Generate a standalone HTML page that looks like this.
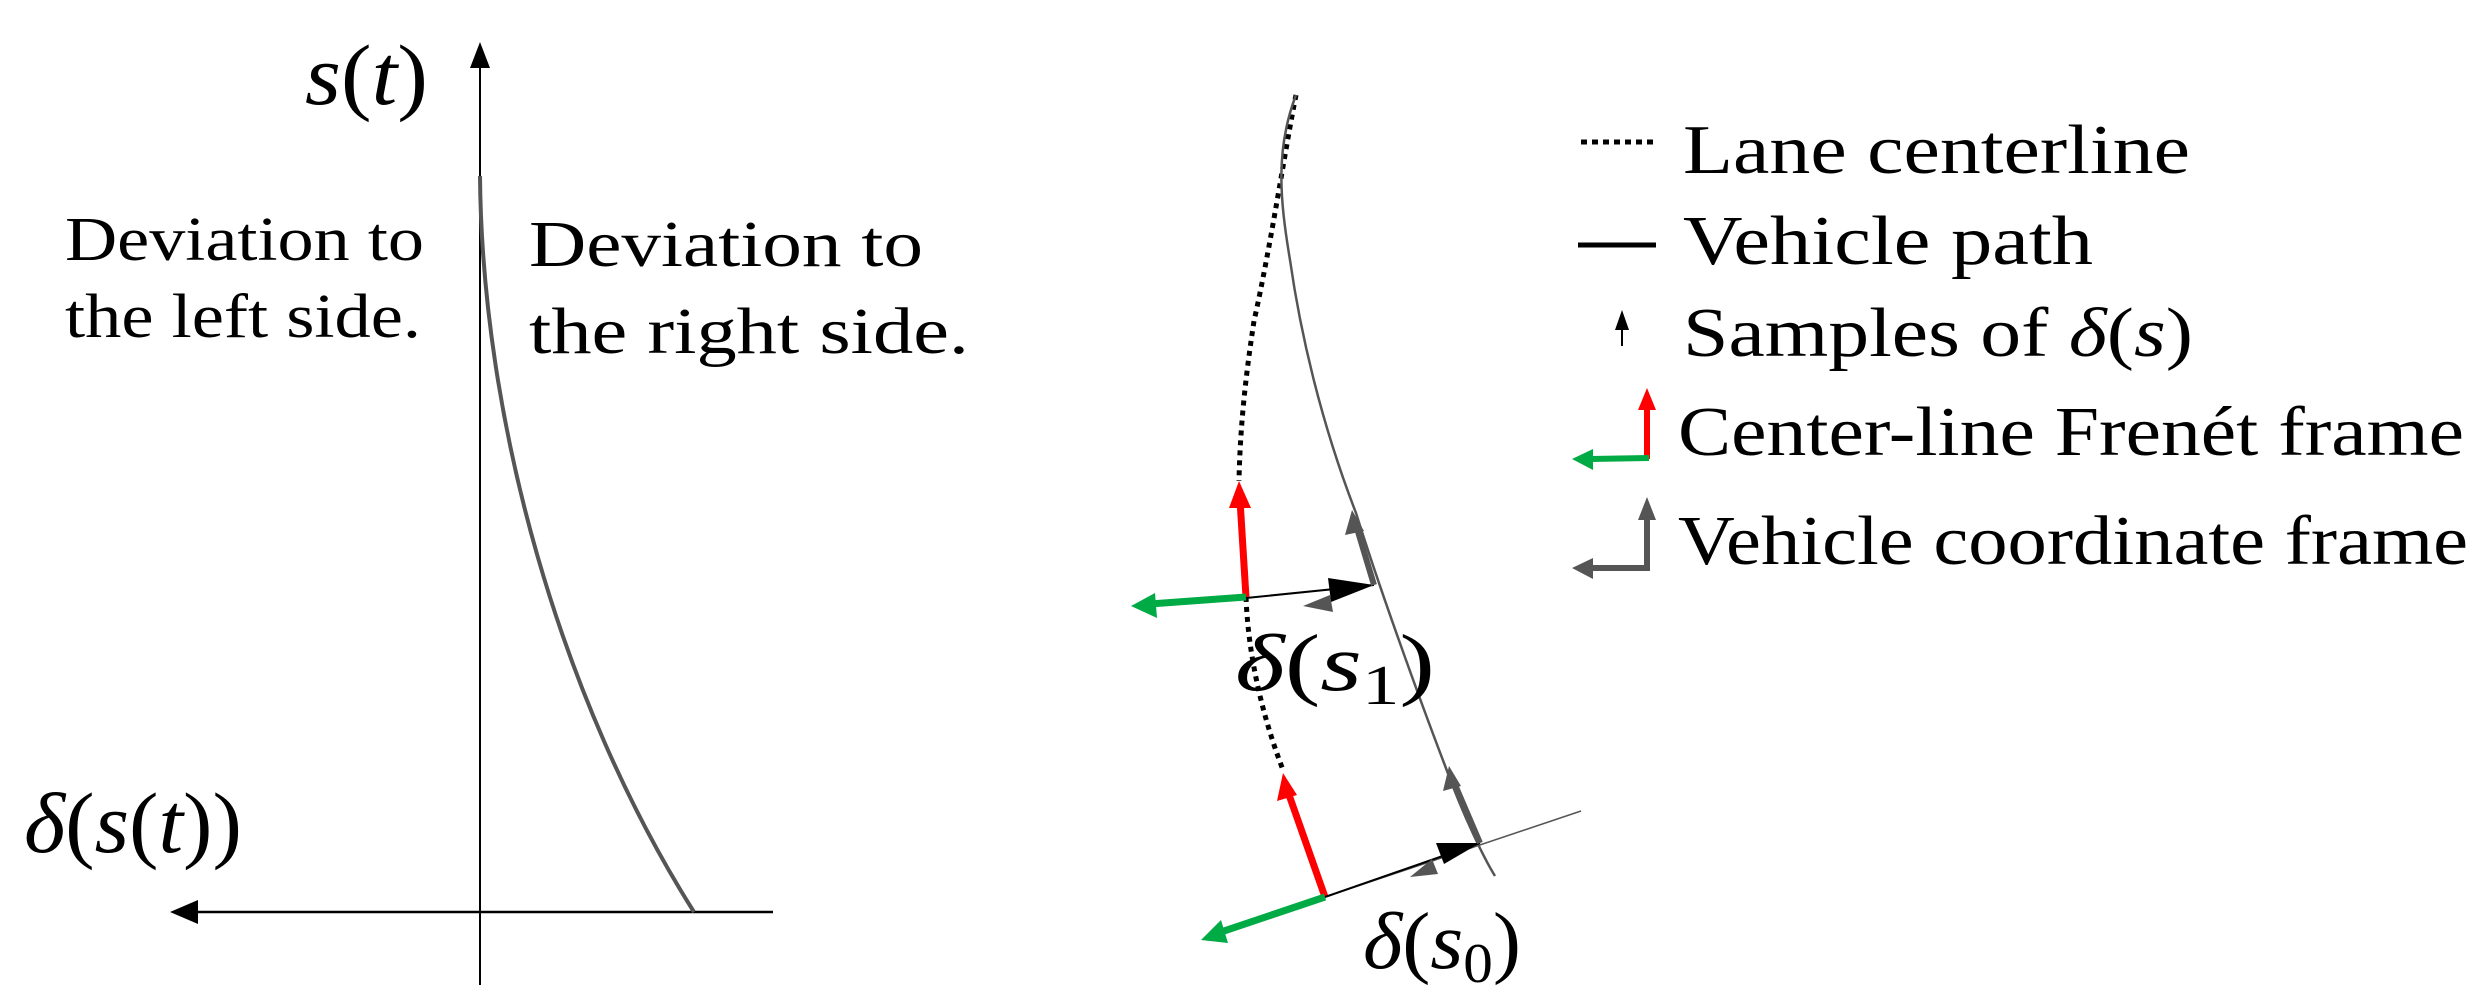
<!DOCTYPE html>
<html><head><meta charset="utf-8"><style>html,body{margin:0;padding:0;background:#fff}svg{display:block}</style></head>
<body>
<svg width="2484" height="1006" viewBox="0 0 2484 1006" xmlns="http://www.w3.org/2000/svg" font-family="Liberation Serif, serif">
<!-- Left plot axes -->
<line x1="480" y1="60" x2="480" y2="985" stroke="#000" stroke-width="2"/>
<path d="M480,42 L470,68 L490,68 Z" fill="#000"/>
<line x1="190" y1="912" x2="773" y2="912" stroke="#000" stroke-width="2.5"/>
<path d="M170,912 L198,900 L198,924 Z" fill="#000"/>
<path d="M480,176 C482,420 560,700 694,912" fill="none" stroke="#555" stroke-width="4"/>
<text x="305" y="104" font-size="86" textLength="123" lengthAdjust="spacingAndGlyphs"><tspan font-style="italic">s</tspan>(<tspan font-style="italic">t</tspan>)</text>
<text x="65" y="260" font-size="62" textLength="359" lengthAdjust="spacingAndGlyphs">Deviation to</text>
<text x="65" y="337" font-size="62" textLength="356" lengthAdjust="spacingAndGlyphs">the left side.</text>
<text x="529" y="266" font-size="66" textLength="394" lengthAdjust="spacingAndGlyphs">Deviation to</text>
<text x="529" y="353" font-size="66" textLength="440" lengthAdjust="spacingAndGlyphs">the right side.</text>
<text x="24" y="852" font-size="86" textLength="218" lengthAdjust="spacingAndGlyphs"><tspan font-style="italic">δ</tspan>(<tspan font-style="italic">s</tspan>(<tspan font-style="italic">t</tspan>))</text>

<!-- Right: centerline dotted -->
<path d="M1296,95 C1285,150 1270,250 1254,321 C1245,380 1240,430 1239,481" fill="none" stroke="#000" stroke-width="5" stroke-dasharray="5,5"/>
<path d="M1246,597 C1248,650 1260,710 1283,770" fill="none" stroke="#000" stroke-width="5" stroke-dasharray="5,5"/>
<!-- vehicle path -->
<path d="M1296,95 C1275,150 1280,200 1290,260 C1300,330 1320,420 1356,513 C1380,590 1420,700 1444,763 C1465,820 1485,860 1495,876" fill="none" stroke="#555" stroke-width="2.5"/>
<!-- frame s1 -->
<line x1="1246" y1="597" x2="1240" y2="500" stroke="#f00" stroke-width="7"/>
<path d="M1239,481 L1229,508 L1251,508 Z" fill="#f00"/>
<line x1="1246" y1="597" x2="1150" y2="604" stroke="#0a4" stroke-width="7"/>
<path d="M1131,606 L1155,593 L1157,618 Z" fill="#0a4"/>
<line x1="1246" y1="598" x2="1374" y2="585" stroke="#000" stroke-width="2"/>
<path d="M1374,585 L1328,578 L1331,602 Z" fill="#000"/>
<path d="M1303,606 L1330,595 L1333,612 Z" fill="#555"/>
<line x1="1374" y1="585" x2="1356" y2="525" stroke="#555" stroke-width="6"/>
<path d="M1352,510 L1345,535 L1364,531 Z" fill="#555"/>
<text x="1235" y="690" font-size="80" textLength="200" lengthAdjust="spacingAndGlyphs"><tspan font-style="italic">δ</tspan>(<tspan font-style="italic">s</tspan><tspan font-size="56" dy="14">1</tspan><tspan dy="-14">)</tspan></text>
<!-- frame s0 -->
<line x1="1325" y1="897" x2="1288" y2="792" stroke="#f00" stroke-width="7"/>
<path d="M1283,773 L1277,801 L1297,795 Z" fill="#f00"/>
<line x1="1325" y1="897" x2="1218" y2="933" stroke="#0a4" stroke-width="7"/>
<path d="M1201,940 L1221,920 L1228,943 Z" fill="#0a4"/>
<line x1="1325" y1="897" x2="1581" y2="811" stroke="#555" stroke-width="1.5"/>
<line x1="1325" y1="897" x2="1480" y2="843" stroke="#000" stroke-width="2"/>
<path d="M1480,843 L1436,843 L1444,864 Z" fill="#000"/>
<path d="M1410,877 L1432,859 L1438,874 Z" fill="#555"/>
<line x1="1480" y1="843" x2="1453" y2="780" stroke="#555" stroke-width="6"/>
<path d="M1449,766 L1443,791 L1461,786 Z" fill="#555"/>
<text x="1363" y="968" font-size="80" textLength="158" lengthAdjust="spacingAndGlyphs"><tspan font-style="italic">δ</tspan>(<tspan font-style="italic">s</tspan><tspan font-size="56" dy="14">0</tspan><tspan dy="-14">)</tspan></text>

<!-- Legend -->
<line x1="1581" y1="142" x2="1656" y2="142" stroke="#000" stroke-width="5" stroke-dasharray="6,5"/>
<text x="1683" y="173" font-size="70" textLength="507" lengthAdjust="spacingAndGlyphs">Lane centerline</text>
<line x1="1578" y1="245" x2="1656" y2="245" stroke="#000" stroke-width="5"/>
<text x="1683" y="264" font-size="70" textLength="410" lengthAdjust="spacingAndGlyphs">Vehicle path</text>
<line x1="1622" y1="325" x2="1622" y2="346" stroke="#000" stroke-width="2"/>
<path d="M1622,310 L1615,330 L1629,330 Z" fill="#000"/>
<text x="1683" y="356" font-size="70" textLength="510" lengthAdjust="spacingAndGlyphs">Samples of <tspan font-style="italic">δ</tspan>(<tspan font-style="italic">s</tspan>)</text>
<line x1="1647" y1="459" x2="1647" y2="405" stroke="#f00" stroke-width="6"/>
<path d="M1647,388 L1638,410 L1656,410 Z" fill="#f00"/>
<line x1="1649" y1="458" x2="1590" y2="459" stroke="#0a4" stroke-width="6"/>
<path d="M1572,459 L1593,449 L1593,470 Z" fill="#0a4"/>
<text x="1678" y="455" font-size="70" textLength="786" lengthAdjust="spacingAndGlyphs">Center-line Frenét frame</text>
<polyline points="1647,515 1647,568 1590,568" fill="none" stroke="#555" stroke-width="6"/>
<path d="M1647,497 L1638,520 L1656,520 Z" fill="#555"/>
<path d="M1572,568 L1593,558 L1593,579 Z" fill="#555"/>
<text x="1678" y="564" font-size="70" textLength="790" lengthAdjust="spacingAndGlyphs">Vehicle coordinate frame</text>
</svg>
</body></html>
